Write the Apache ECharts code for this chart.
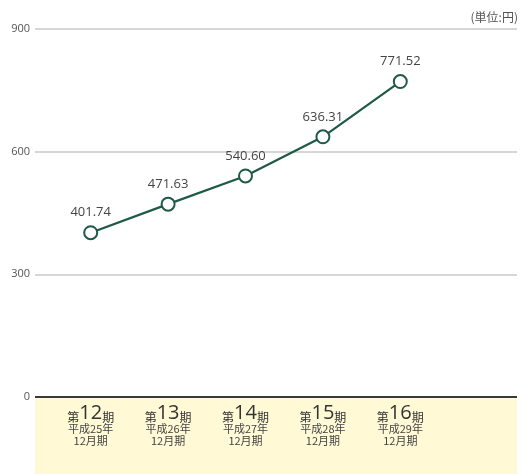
<!DOCTYPE html>
<html><head><meta charset="utf-8">
<script src="https://cdn.jsdelivr.net/npm/echarts@6/dist/echarts.min.js"></script>
<style>html,body{margin:0;padding:0;background:#fff}#c{width:528px;height:474px}</style>
</head><body><div id="c"></div>
<script>
var periods = ['12', '13', '14', '15', '16'];
var years = ['平成25年', '平成26年', '平成27年', '平成28年', '平成29年'];
var months = ['12月期', '12月期', '12月期', '12月期', '12月期'];
var values = [401.74, 471.63, 540.60, 636.31, 771.52];
var yTicks = [0, 300, 600, 900];
var unitText = '(単位:円)';

var cats = periods.map(function (p, i) { return p + '|' + years[i] + '|' + months[i]; });
var font = '"Noto Sans CJK JP", "Noto Sans", sans-serif';
var numFont = '"Open Sans", "Noto Sans", sans-serif';
var chart = echarts.init(document.getElementById('c'), null, { renderer: 'canvas' });
chart.setOption({
  animation: false,
  textStyle: { fontFamily: font },
  graphic: [
    { type: 'rect', left: 35, top: 398, shape: { width: 482, height: 76 }, style: { fill: '#fff9d6' }, z: -10 },
    { type: 'text', right: 10, top: 11, style: { text: unitText, font: '12px ' + font, fill: '#555' } }
  ],
  grid: [
    { left: 35, right: 11, top: 29, height: 368 },
    { left: 52, width: 387, top: 29, height: 368 }
  ],
  xAxis: [
    { type: 'category', gridIndex: 0, data: ['a'], show: false },
    {
      type: 'category', gridIndex: 1, data: cats, boundaryGap: true,
      axisLine: { show: false }, axisTick: { show: false },
      axisLabel: {
        margin: 6, interval: 0, hideOverlap: false,
        formatter: function (v) {
          var p = v.split('|');
          return '{s|第}{b|' + p[0] + '}{s|期}\n{t|' + p[1] + '}\n{t|' + p[2] + '}';
        },
        rich: {
          s: { fontSize: 12, color: '#333', fontFamily: font, verticalAlign: 'bottom', lineHeight: 20 },
          b: { fontSize: 20, color: '#333', fontFamily: numFont, lineHeight: 20, verticalAlign: 'bottom' },
          t: { fontSize: 11, color: '#444', fontFamily: font, lineHeight: 12 }
        }
      }
    }
  ],
  yAxis: [
    {
      type: 'value', gridIndex: 0, min: 0, max: 900, interval: 300,
      axisLine: { show: false }, axisTick: { show: false },
      axisLabel: { color: '#555', fontSize: 11, margin: 5, fontFamily: numFont },
      splitLine: { lineStyle: { color: '#c8c8c8', width: 1.5 } }
    },
    { type: 'value', gridIndex: 1, min: 0, max: 900, interval: 300, show: false }
  ],
  series: [
    {
      type: 'line', xAxisIndex: 0, yAxisIndex: 0, data: [], silent: true,
      markLine: {
        silent: true, symbol: 'none', label: { show: false },
        lineStyle: { color: '#3a3a3a', width: 2, type: 'solid' },
        data: [{ yAxis: yTicks[0] }]
      }
    },
    {
      type: 'line', xAxisIndex: 1, yAxisIndex: 1, data: values,
      symbol: 'circle', symbolSize: 13,
      itemStyle: { color: '#fff', borderColor: '#1e5a44', borderWidth: 2 },
      lineStyle: { color: '#1e5a44', width: 2.2 },
      label: { show: true, position: 'top', distance: 6, color: '#444', fontSize: 13, fontFamily: numFont,
        formatter: function (p) { return p.value.toFixed(2); } },
      z: 5
    }
  ]
});
</script></body></html>
